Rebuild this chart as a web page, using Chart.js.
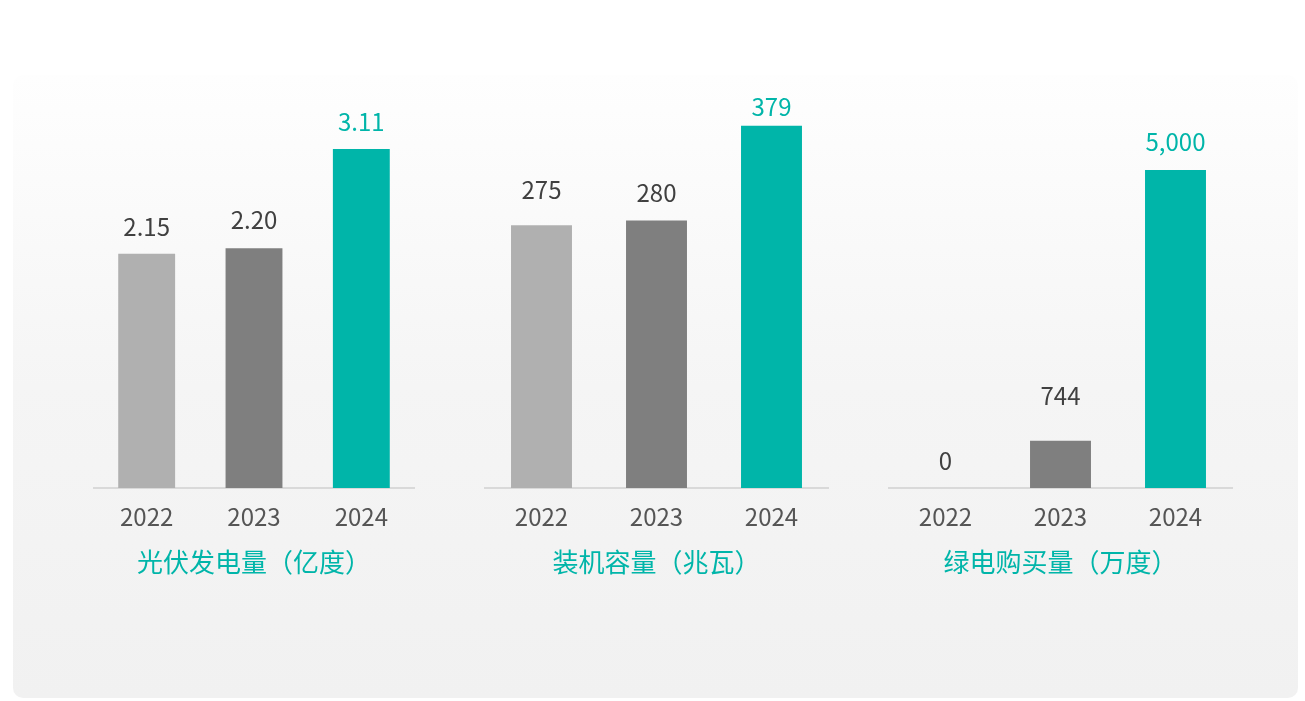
<!DOCTYPE html>
<html lang="zh">
<head>
    <meta charset="UTF-8" />
    <title>光伏 / 装机 / 绿电</title>
    <script src="https://cdn.jsdelivr.net/npm/chart.js"></script>
    <style>
        body {
          margin: 0;
          background: #ffffff;
          width: 1305px;
          height: 701px;
          position: relative;
          overflow: hidden;
          font-family: "Noto Sans CJK SC", "Noto Sans", sans-serif;
        }

        .card {
          position: absolute;
          left: 13px;
          top: 75px;
          width: 1285px;
          height: 623px;
          border-radius: 10px;
          background: linear-gradient(to bottom, #fefefe 0%, #f5f5f5 50%, #f1f1f1 100%);
        }

        .panel {
          position: absolute;
          top: 80px;
          height: 520px;
        }

        #p1 { left: 93px; width: 322px; }
        #p2 { left: 484px; width: 345px; }
        #p3 { left: 888px; width: 345px; }
    </style>
</head>
<body>

<div class="card"></div>
<div class="panel" id="p1"><canvas id="c1"></canvas></div>
<div class="panel" id="p2"><canvas id="c2"></canvas></div>
<div class="panel" id="p3"><canvas id="c3"></canvas></div>

<script>
    const years = ['2022', '2023', '2024'];
    const pvGeneration = [2.15, 2.20, 3.11];   // 亿度
    const capacity = [275, 280, 379];          // 兆瓦
    const greenPurchase = [0, 744, 5000];      // 万度

    const barColors = ['#b0b0b0', '#7f7f7f', '#00b5a9'];
    const labelColors = ['#404040', '#404040', '#00b5a9'];
    const teal = '#00b5a9';
    const font = '"Noto Sans CJK SC", "Noto Sans", sans-serif';

    // draws the value above each bar (lift = px from bar top to label centre)
    const valueLabels = {
      id: 'valueLabels',
      afterDatasetsDraw(chart, args, opts) {
        const ctx = chart.ctx;
        const meta = chart.getDatasetMeta(0);
        ctx.save();
        ctx.font = '24px ' + font;
        ctx.textAlign = 'center';
        ctx.textBaseline = 'middle';
        meta.data.forEach((bar, i) => {
          const v = chart.data.datasets[0].data[i];
          ctx.fillStyle = labelColors[i];
          ctx.fillText(opts.format(v), bar.x, bar.y - opts.lift[i]);
        });
        ctx.restore();
      }
    };

    function makeChart(id, title, values, max, format, lift) {
      return new Chart(document.getElementById(id), {
        type: 'bar',
        data: {
          labels: years,
          datasets: [{
            data: values,
            backgroundColor: barColors,
            barPercentage: 0.53,
            categoryPercentage: 1
          }]
        },
        options: {
          responsive: true,
          maintainAspectRatio: false,
          animation: false,
          layout: { padding: { top: 20, bottom: 22, left: 0, right: 0 } },
          plugins: {
            legend: { display: false },
            tooltip: { enabled: false },
            title: {
              display: true,
              text: title,
              position: 'bottom',
              color: teal,
              font: { family: font, size: 26, weight: 'normal' },
              padding: { top: 2, bottom: 0 }
            },
            valueLabels: { format: format, lift: lift }
          },
          scales: {
            x: {
              grid: { display: false, drawTicks: false },
              border: { display: true, color: '#d9d9d9', width: 2 },
              ticks: { color: '#555555', padding: 14, font: { family: font, size: 24 } }
            },
            y: {
              display: false,
              min: 0,
              max: max
            }
          }
        },
        plugins: [valueLabels]
      });
    }

    makeChart('c1', '光伏发电量（亿度）', pvGeneration, 3.56, v => v.toFixed(2), [27, 28, 27]);
    makeChart('c2', '装机容量（兆瓦）', capacity, 406, v => String(v), [35, 28, 19]);
    makeChart('c3', '绿电购买量（万度）', greenPurchase, 6100, v => v.toLocaleString('en-US'), [27, 45, 28]);
</script>

</body>
</html>
